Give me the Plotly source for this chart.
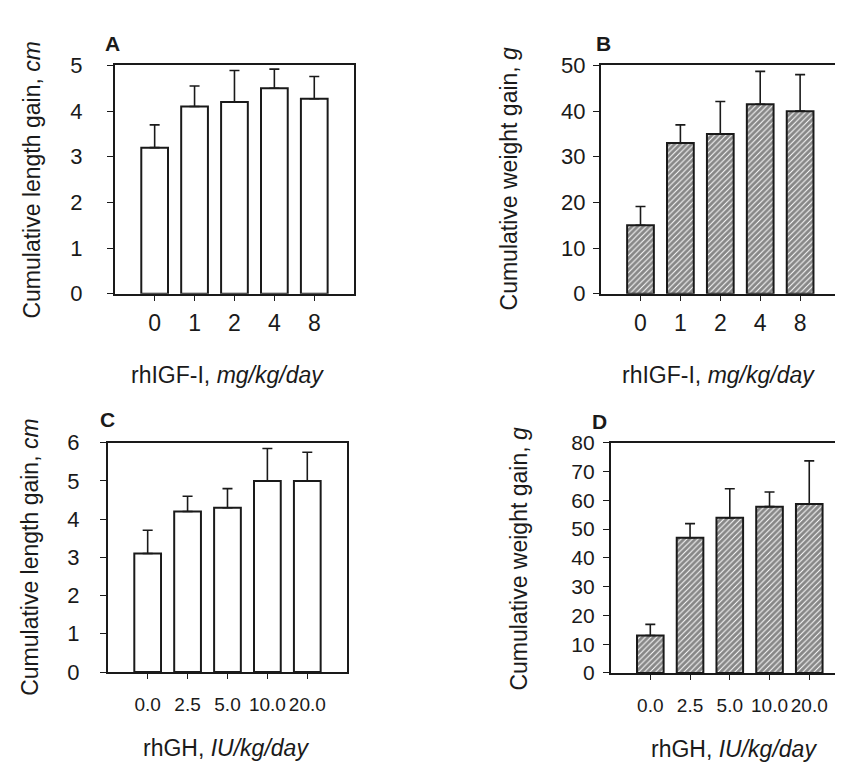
import plotly.graph_objects as go

W, H = 843, 766

# ---- data ----
igf_doses = ["0", "1", "2", "4", "8"]
gh_doses = ["0.0", "2.5", "5.0", "10.0", "20.0"]

a_length = [3.2, 4.1, 4.2, 4.5, 4.27]
a_err = [0.5, 0.45, 0.69, 0.42, 0.49]

b_weight = [15.0, 33.0, 35.0, 41.5, 40.0]
b_err = [4.1, 4.0, 7.1, 7.2, 8.0]

c_length = [3.1, 4.2, 4.3, 5.0, 5.0]
c_err = [0.61, 0.4, 0.5, 0.85, 0.75]

d_weight = [13.0, 47.0, 53.9, 57.8, 58.7]
d_err = [3.9, 4.9, 10.1, 5.1, 15.0]

FONT = "Liberation Sans, Arial, Helvetica, sans-serif"
INK = "#1a1a1a"

fig = go.Figure()


def add_bar(x, y, err, xa, ya, hatched):
    marker = dict(color="white", line=dict(color=INK, width=2))
    if hatched:
        marker["pattern"] = dict(shape="/", fgcolor="#101010", bgcolor="white",
                                 size=4, solidity=0.75)
    fig.add_trace(go.Bar(
        x=x, y=y, xaxis=xa, yaxis=ya, width=0.67, marker=marker,
        error_y=dict(type="data", symmetric=False, array=err,
                     arrayminus=[0] * len(err), color=INK, thickness=1.6, width=5),
        showlegend=False,
    ))


add_bar(igf_doses, a_length, a_err, "x", "y", False)
add_bar(igf_doses, b_weight, b_err, "x2", "y2", True)
add_bar(gh_doses, c_length, c_err, "x3", "y3", False)
add_bar(gh_doses, d_weight, d_err, "x4", "y4", True)


def px_x(p):
    return p / W


def px_y(p):
    return 1 - p / H


def xax(dom, fsize, standoff, anchor):
    return dict(domain=[px_x(dom[0]), min(1.0, px_x(dom[1]))], type="category",
                range=[-1, 5], anchor=anchor, showline=True, linecolor=INK,
                linewidth=1.6, mirror=True, ticks="outside", ticklen=5,
                tickwidth=1.4, tickcolor=INK, showgrid=False, zeroline=False,
                ticklabelstandoff=standoff,
                tickfont=dict(family=FONT, size=fsize, color=INK))


def yax(dom, rng, dtick, fsize, standoff, anchor):
    return dict(domain=[px_y(dom[1]), px_y(dom[0])], range=rng, dtick=dtick,
                anchor=anchor, showline=True, linecolor=INK, linewidth=1.6,
                mirror=True, ticks="outside", ticklen=6, tickwidth=1.4,
                tickcolor=INK, showgrid=False, zeroline=False,
                ticklabelstandoff=standoff,
                tickfont=dict(family=FONT, size=fsize, color=INK))


fig.update_layout(
    width=W, height=H, margin=dict(l=0, r=0, t=0, b=0),
    paper_bgcolor="white", plot_bgcolor="white", bargap=0.3,
    xaxis=xax((107, 347), 23, 3, "y"),
    yaxis=yax((47, 283), [0, 5], 1, 22, 20, "x"),
    xaxis2=xax((594, 834), 23, 3, "y2"),
    yaxis2=yax((47, 283), [0, 50], 10, 22, 3, "x2"),
    xaxis3=xax((100, 340), 19, 9, "y3"),
    yaxis3=yax((437, 674), [0, 6], 1, 22, 16, "x3"),
    xaxis4=xax((604, 844), 19, 9, "y4"),
    yaxis4=yax((437, 675), [0, 80], 10, 21, 4, "x4"),
)


def ann(text, x, y, size, angle=0, bold=False):
    if bold:
        text = "<b>" + text + "</b>"
    fig.add_annotation(text=text, x=px_x(x), y=px_y(y), xref="paper", yref="paper",
                       xanchor="center", yanchor="middle", showarrow=False,
                       textangle=angle, font=dict(family=FONT, size=size, color=INK))


# panel letters
ann("A", 105, 24, 21, bold=True)
ann("B", 597, 24, 21, bold=True)
ann("C", 100, 413, 21, bold=True)
ann("D", 593, 415, 21, bold=True)

# axis titles
ann("Cumulative length gain, <i>cm</i>", 24, 165, 23, angle=-90)
ann("Cumulative weight gain, <i>g</i>", 502, 164, 23, angle=-90)
ann("Cumulative length gain, <i>cm</i>", 22, 555, 23, angle=-90)
ann("Cumulative weight gain, <i>g</i>", 512, 557, 23, angle=-90)
ann("rhIGF-I, <i>mg/kg/day</i>", 220, 367, 23)
ann("rhIGF-I, <i>mg/kg/day</i>", 712, 367, 23)
ann("rhGH, <i>IU/kg/day</i>", 219, 753, 23)
ann("rhGH, <i>IU/kg/day</i>", 728, 754, 23)

fig.write_html("out.html")
